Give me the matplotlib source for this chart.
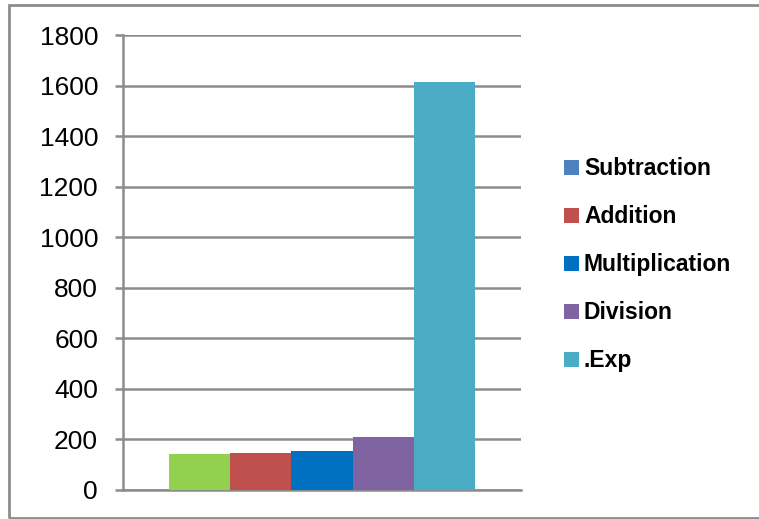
import matplotlib
matplotlib.use("Agg")
import matplotlib.pyplot as plt
from matplotlib.patches import Patch, Rectangle

series = ["Subtraction", "Addition", "Multiplication", "Division", ".Exp"]
values = [141, 146, 153, 208, 1612]
bar_colors = ["#92D050", "#C0504D", "#0070C0", "#8064A2", "#4BACC6"]
legend_colors = ["#4F81BD", "#C0504D", "#0070C0", "#8064A2", "#4BACC6"]
yticks = [0, 200, 400, 600, 800, 1000, 1200, 1400, 1600, 1800]

W, H = 759, 519
fig = plt.figure(figsize=(W / 100, H / 100), dpi=100)
fig.patch.set_facecolor("white")

# outer border
fig.patches.append(Rectangle((9 / W, 1 - 518 / H), (W + 10) / W, (518 - 5) / H,
                             transform=fig.transFigure, fill=False,
                             edgecolor="#8C8C8C", linewidth=2.0))

left, right = 123, 521
top, bottom = 35, 489.7
ax = fig.add_axes([left / W, 1 - bottom / H, (right - left) / W, (bottom - top) / H])

n = len(series)
bw = 61.2 / (right - left)  # fraction of axis width per bar
x0 = 0.5 - n * bw / 2
for i, (v, c) in enumerate(zip(values, bar_colors)):
    ax.bar(x0 + (i + 0.5) * bw, v, width=bw, color=c, zorder=3)

ax.set_xlim(0, 1)
ax.set_ylim(0, 1800)
ax.set_yticks(yticks)
ax.set_yticklabels([str(t) for t in yticks], fontsize=19, family="Liberation Sans")
ax.set_xticks([])
ax.yaxis.grid(True, color="#8C8C8C", linewidth=1.8, zorder=0)
ax.tick_params(axis="y", direction="out", length=6, width=1.8, color="#8C8C8C", pad=12)
for s in ["top", "right"]:
    ax.spines[s].set_visible(False)
ax.spines["left"].set_color("#8C8C8C")
ax.spines["left"].set_linewidth(1.8)
ax.spines["bottom"].set_color("#8C8C8C")
ax.spines["bottom"].set_linewidth(1.8)
ax.set_axisbelow(True)

handles = [Patch(facecolor=c, edgecolor="none") for c in legend_colors]
fig.legend(handles, series, loc="upper left", bbox_to_anchor=(553 / W, 1 - 146 / H),
           frameon=False, prop={"family": "Liberation Sans", "weight": "bold", "size": 16.5},
           handlelength=0.65, handleheight=0.65, handletextpad=0.2, labelspacing=1.09,
           borderpad=0)

fig.savefig("out.png", dpi=100)
